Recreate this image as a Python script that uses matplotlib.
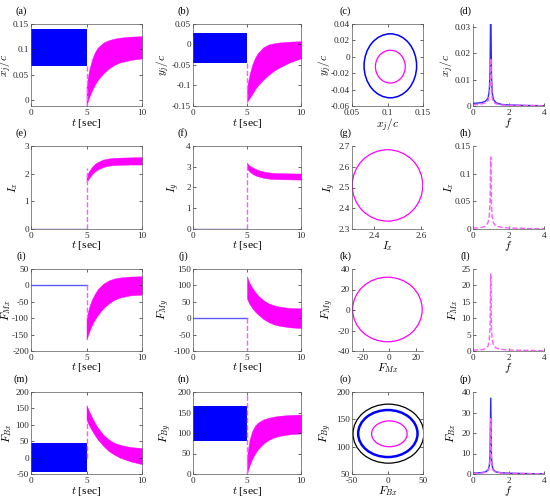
import numpy as np
import matplotlib
matplotlib.use("Agg")
import matplotlib.pyplot as plt
from matplotlib.patches import Ellipse

plt.rcParams['font.family'] = ['Liberation Serif', 'DejaVu Serif']
plt.rcParams['mathtext.fontset'] = 'cm'
plt.rcParams['axes.unicode_minus'] = False

BLUE = '#0000ff'
LBLUE = '#5a5aff'
SBLUE = '#2a2aff'
MAG = '#ff00ff'
LMAG = '#ff5cff'

# ---- time histories: magenta envelope after t = 5 s ----
t_m = [5.0, 5.1, 5.25, 5.5, 5.75, 6.0, 6.5, 7.0, 7.5, 8.0, 9.0, 10.0]

xj_up = [0.026, 0.042, 0.060, 0.080, 0.094, 0.103, 0.113, 0.118, 0.121, 0.123, 0.125, 0.126]
xj_lo = [-0.012, -0.004, 0.006, 0.019, 0.030, 0.039, 0.052, 0.062, 0.069, 0.074, 0.079, 0.082]
yj_up = [-0.105, -0.090, -0.072, -0.048, -0.032, -0.021, -0.007, 0.000, 0.003, 0.005, 0.007, 0.008]
yj_lo = [-0.140, -0.136, -0.130, -0.120, -0.109, -0.100, -0.086, -0.074, -0.064, -0.056, -0.043, -0.034]
ix_up = [1.95, 2.00, 2.10, 2.25, 2.35, 2.42, 2.51, 2.55, 2.57, 2.58, 2.59, 2.60]
ix_lo = [1.70, 1.76, 1.85, 1.98, 2.08, 2.15, 2.24, 2.29, 2.31, 2.32, 2.33, 2.33]
iy_up = [3.20, 3.12, 3.05, 2.97, 2.90, 2.85, 2.77, 2.73, 2.70, 2.69, 2.68, 2.67]
iy_lo = [2.92, 2.85, 2.76, 2.66, 2.59, 2.54, 2.47, 2.43, 2.41, 2.40, 2.39, 2.38]
fmx_up = [-100, -85, -65, -42, -26, -12, 5, 15, 21, 24, 27, 28]
fmx_lo = [-166, -155, -140, -120, -104, -91, -70, -55, -44, -37, -30, -28]
fmy_up = [128, 118, 106, 92, 80, 70, 55, 45, 39, 35, 31, 30]
fmy_lo = [60, 52, 42, 30, 20, 12, -2, -12, -19, -23, -28, -30]
fbx_up = [160, 152, 140, 122, 106, 92, 70, 55, 45, 39, 32, 29]
fbx_lo = [115, 107, 97, 82, 68, 56, 36, 20, 9, 0, -12, -20]
fby_up = [40, 62, 85, 106, 118, 125, 133, 137, 140, 142, 144, 145]
fby_lo = [0, 10, 22, 38, 50, 60, 74, 83, 89, 93, 97, 99]

# blue part for t in [0, 5]: band (lo, hi) or a flat line at 0
t_b = [0, 5]
xj_band = [0.068, 0.140]
yj_band = [-0.045, 0.027]
fbx_band = [-43, 45]
fby_band = [80, 165]
zero_line = [0, 0]

# dashed magenta jump at t = 5
xj_jump = [0.068, -0.012]
yj_jump = [-0.045, -0.140]
ix_jump = [0, 2.2]
iy_jump = [0, 3.1]
fmx_jump = [0, -100]
fmy_jump = [0, -100]
fbx_jump = [0, 115]
fby_jump = [0, 200]

# ---- phase portraits: ellipse (cx, cy, rx, ry) ----
c_blue = (0.104, -0.011, 0.037, 0.039)
c_mag = (0.104, -0.012, 0.021, 0.020)
g_mag = (2.457, 2.51, 0.149, 0.172)
k_mag = (-1.5, 0.5, 26.5, 31.5)
o_black = (1.3, 123.8, 49.9, 54.0)
o_blue = (0.5, 124.0, 41.8, 43.0)
o_mag = (2.6, 123.5, 25.0, 23.6)

# ---- spectra ----
f = [0, 0.25, 0.5, 0.7, 0.85, 0.92, 0.96, 1.0, 1.04, 1.08, 1.15, 1.3, 1.6, 2.0, 3.0, 4.0]
d_blue = [0.001, 0.0011, 0.0013, 0.0018, 0.003, 0.006, 0.013, 0.04, 0.012, 0.005, 0.0025, 0.0012, 0.0006, 0.0004, 0.0002, 0.0001]
d_mag = [0.0005, 0.0006, 0.0008, 0.0012, 0.002, 0.004, 0.008, 0.018, 0.007, 0.003, 0.0015, 0.0008, 0.0004, 0.0003, 0.0002, 0.0001]
h_mag = [0.002, 0.002, 0.003, 0.005, 0.012, 0.025, 0.05, 0.13, 0.045, 0.022, 0.011, 0.005, 0.003, 0.002, 0.001, 0.0005]
l_mag = [0.3, 0.3, 0.4, 0.7, 1.5, 3.5, 7.5, 23.5, 7.0, 3.5, 1.8, 0.9, 0.5, 0.3, 0.2, 0.1]
p_blue = [0.5, 0.5, 0.7, 1.0, 2.0, 4.0, 9.0, 37.0, 8.5, 4.0, 2.0, 1.0, 0.6, 0.4, 0.2, 0.1]
p_mag = [0.3, 0.3, 0.5, 0.8, 1.6, 3.2, 7.0, 27.0, 6.5, 3.0, 1.6, 0.8, 0.5, 0.3, 0.2, 0.1]

fig = plt.figure(figsize=(5.5, 5.0), dpi=100)
cols = [(31, 142), (193, 301), (352, 423), (473, 544)]
rows = [(24, 106), (146, 229), (269, 351), (392, 474)]
# distance (px) from axes left edge to the centre of the y label
ylab_off = [[21.5, 25, 22.5, 21],
            [15, 15, 19, 21],
            [22.5, 25, 20, 17],
            [21.5, 23, 22, 20]]
TS = 6.6   # tick label size
LS = 8.2   # axis label size


def make_ax(r, c, box=True):
    x0, x1 = cols[c]
    y0, y1 = rows[r]
    ax = fig.add_axes([x0 / 550, 1 - y1 / 500, (x1 - x0) / 550, (y1 - y0) / 500])
    ax.tick_params(direction='in', length=2.5, width=0.5, labelsize=TS,
                   top=box, right=box, pad=1.5, colors='0.15')
    ax.tick_params(axis='x', pad=2.3)
    for s in ax.spines.values():
        s.set_linewidth(0.5)
        s.set_color('0.35')
    if not box:
        ax.spines['top'].set_visible(False)
        ax.spines['right'].set_visible(False)
    ax._rc = (r, c)
    return ax


def set_labels(ax, xl, yl, xpad=10.5):
    r, c = ax._rc
    w = cols[c][1] - cols[c][0]
    h = rows[r][1] - rows[r][0]
    ax.set_xlabel(xl, fontsize=LS)
    ax.set_ylabel(yl, fontsize=LS)
    ax.xaxis.set_label_coords(0.5, -xpad / h)
    ax.yaxis.set_label_coords(-(ylab_off[r][c] - 4.5) / w, 0.5)


def label(ax, txt, dx=-10):
    ax.annotate(txt, xy=(0, 1), xycoords='axes fraction', xytext=(dx, 13),
                textcoords='offset pixels', ha='center', va='center', fontsize=7.5)


def time_panel(ax, up, lo, jump, ylim, yticks, ylabel, band=None):
    if band is not None:
        ax.fill_between(t_b, [band[0]] * 2, [band[1]] * 2, color=BLUE, lw=0)
    else:
        ax.plot(t_b, zero_line, color=LBLUE, lw=1.0)
    ax.fill_between(t_m, lo, up, color=MAG, lw=0.3, edgecolor=MAG)
    ax.plot([5, 5], jump, '--', color=LMAG, lw=1.0)
    ax.set_xlim(0, 10)
    ax.set_xticks([0, 5, 10])
    ax.set_ylim(*ylim)
    ax.set_yticks(yticks)
    ax.set_yticklabels([f'{v:g}' for v in yticks])
    set_labels(ax, r'$t$ [sec]', ylabel)


def ell(ax, e, color, lw):
    ax.add_patch(Ellipse((e[0], e[1]), 2 * e[2], 2 * e[3], fill=False,
                         edgecolor=color, lw=lw))


def spec_panel(ax, ylim, yticks, ylabel, blue=None, mag=None):
    if blue is not None:
        ax.plot(f, blue, color=SBLUE, lw=1.0)
    if mag is not None:
        ax.plot(f, mag, '--', color=LMAG, lw=1.0)
    ax.set_xlim(0, 4)
    ax.set_xticks([0, 2, 4])
    ax.set_ylim(*ylim)
    ax.set_yticks(yticks)
    ax.set_yticklabels([f'{v:g}' for v in yticks])
    set_labels(ax, r'$f$', ylabel, xpad=10.0)


# row 1
ax = make_ax(0, 0)
time_panel(ax, xj_up, xj_lo, xj_jump, (-0.012, 0.15), [0, 0.05, 0.1, 0.15], r'$x_j/c$', xj_band)
label(ax, '(a)')
ax = make_ax(0, 1)
time_panel(ax, yj_up, yj_lo, yj_jump, (-0.15, 0.05), [-0.15, -0.1, -0.05, 0, 0.05], r'$y_j/c$', yj_band)
label(ax, '(b)')
ax = make_ax(0, 2)
ell(ax, c_blue, BLUE, 1.1)
ell(ax, c_mag, MAG, 0.9)
ax.set_xlim(0.05, 0.15)
ax.set_ylim(-0.06, 0.04)
ax.set_xticks([0.05, 0.1, 0.15])
ax.set_xticklabels(['0.05', '0.1', '0.15'])
ax.set_yticks([-0.06, -0.04, -0.02, 0, 0.02, 0.04])
ax.set_yticklabels(['-0.06', '-0.04', '-0.02', '0', '0.02', '0.04'])
set_labels(ax, r'$x_j/c$', r'$y_j/c$')
label(ax, '(c)', -7)
ax = make_ax(0, 3, box=False)
spec_panel(ax, (0, 0.031), [0, 0.01, 0.02, 0.03], r'$x_j/c$', d_blue, d_mag)
label(ax, '(d)', -8)

# row 2
ax = make_ax(1, 0)
time_panel(ax, ix_up, ix_lo, ix_jump, (0, 3), [0, 1, 2, 3], r'$I_x$')
label(ax, '(e)')
ax = make_ax(1, 1)
time_panel(ax, iy_up, iy_lo, iy_jump, (0, 4), [0, 1, 2, 3, 4], r'$I_y$')
label(ax, '(f)')
ax = make_ax(1, 2, box=False)
ell(ax, g_mag, MAG, 0.9)
ax.set_xlim(2.307, 2.607)
ax.set_ylim(2.3, 2.7)
ax.set_xticks([2.4, 2.6])
ax.set_xticklabels(['2.4', '2.6'])
ax.set_yticks([2.3, 2.4, 2.5, 2.6, 2.7])
ax.set_yticklabels(['2.3', '2.4', '2.5', '2.6', '2.7'])
set_labels(ax, r'$I_x$', r'$I_y$')
label(ax, '(g)', -7)
ax = make_ax(1, 3, box=False)
spec_panel(ax, (0, 0.15), [0, 0.05, 0.1, 0.15], r'$I_x$', None, h_mag)
label(ax, '(h)', -8)

# row 3
ax = make_ax(2, 0)
time_panel(ax, fmx_up, fmx_lo, fmx_jump, (-200, 50), [-200, -150, -100, -50, 0, 50], r'$F_{Mx}$')
label(ax, '(i)')
ax = make_ax(2, 1)
time_panel(ax, fmy_up, fmy_lo, fmy_jump, (-100, 150), [-100, -50, 0, 50, 100, 150], r'$F_{My}$')
label(ax, '(j)')
ax = make_ax(2, 2, box=False)
ell(ax, k_mag, MAG, 0.9)
ax.set_xlim(-28.5, 25.6)
ax.set_ylim(-40, 40)
ax.set_xticks([-20, 0, 20])
ax.set_yticks([-40, -20, 0, 20, 40])
set_labels(ax, r'$F_{Mx}$', r'$F_{My}$')
label(ax, '(k)', -7)
ax = make_ax(2, 3, box=False)
spec_panel(ax, (0, 25), [0, 5, 10, 15, 20, 25], r'$F_{Mx}$', None, l_mag)
label(ax, '(l)', -8)

# row 4
ax = make_ax(3, 0)
time_panel(ax, fbx_up, fbx_lo, fbx_jump, (-50, 200), [-50, 0, 50, 100, 150, 200], r'$F_{Bx}$', fbx_band)
label(ax, '(m)')
ax = make_ax(3, 1)
time_panel(ax, fby_up, fby_lo, fby_jump, (0, 200), [0, 50, 100, 150, 200], r'$F_{By}$', fby_band)
label(ax, '(n)')
ax = make_ax(3, 2)
ell(ax, o_black, 'black', 0.9)
ell(ax, o_blue, BLUE, 1.8)
ell(ax, o_mag, MAG, 0.9)
ax.set_xlim(-50, 50)
ax.set_ylim(50, 200)
ax.set_xticks([-50, 0, 50])
ax.set_yticks([50, 100, 150, 200])
set_labels(ax, r'$F_{Bx}$', r'$F_{By}$')
label(ax, '(o)', -7)
ax = make_ax(3, 3, box=False)
spec_panel(ax, (0, 40), [0, 10, 20, 30, 40], r'$F_{Bx}$', p_blue, p_mag)
label(ax, '(p)', -8)

fig.savefig('out.png', dpi=100)
